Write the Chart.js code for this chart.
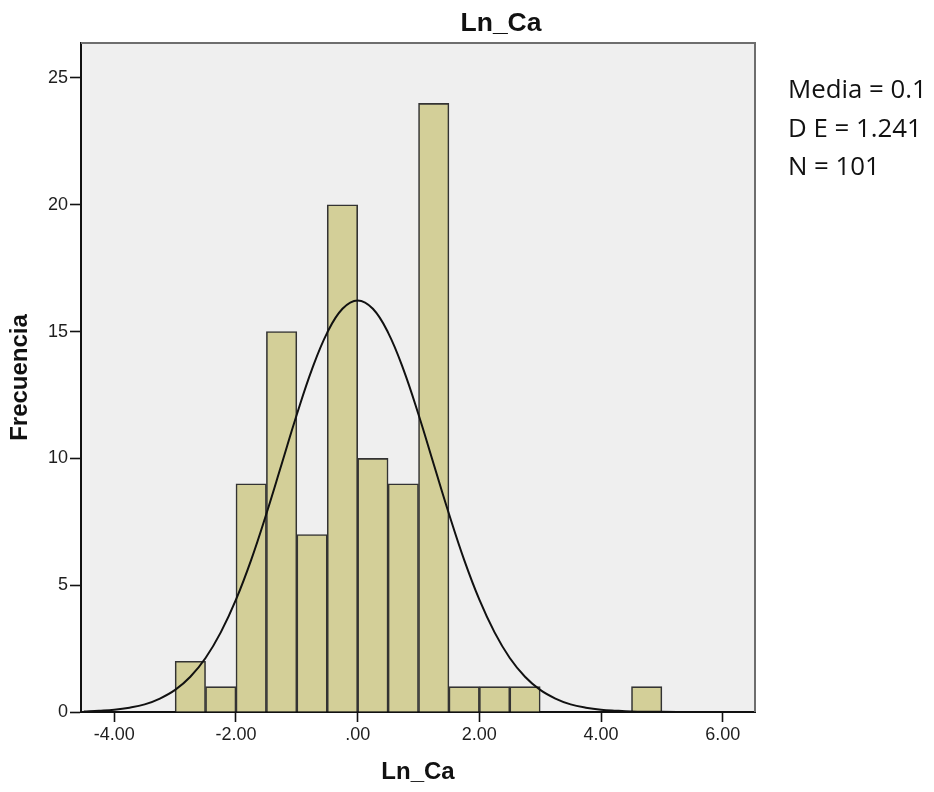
<!DOCTYPE html>
<html>
<head>
<meta charset="utf-8">
<title>Ln_Ca</title>
<script src="https://cdn.jsdelivr.net/npm/chart.js@4.4.1/dist/chart.umd.min.js"></script>
<style>
  body { margin: 0; background: #fff; }
  canvas { display: block; }
</style>
</head>
<body>
<canvas id="histChart" width="934" height="792"></canvas>
<script>
// Histogram bins (centres of 0.5 wide bins) and counts
const binCenters = [-2.75, -2.25, -1.75, -1.25, -0.75, -0.25, 0.25, 0.75, 1.25, 1.75, 2.25, 2.75, 4.75];
const binCounts = [2, 1, 9, 15, 7, 20, 10, 9, 24, 1, 1, 1, 1];

// Normal curve
const curveX = [
  -4.5, -4.25, -4, -3.75, -3.5, -3.25, -3, -2.75, -2.5, -2.25, -2, -1.75, -1.5,
  -1.25, -1, -0.75, -0.5, -0.25, 0, 0.25, 0.5, 0.75, 1, 1.25, 1.5, 1.75, 2,
  2.25, 2.5, 2.75, 3, 3.25, 3.5, 3.75, 4, 4.25, 4.5, 4.75, 5, 5.5, 6, 6.5,
];
const curveY = [
  0.02, 0.05, 0.09, 0.17, 0.3, 0.53, 0.87, 1.39, 2.13, 3.14, 4.43, 6.0, 7.82,
  9.77, 11.73, 13.52, 14.96, 15.9, 16.23, 15.9, 14.96, 13.52, 11.73, 9.77, 7.82, 6.0, 4.43,
  3.14, 2.13, 1.39, 0.87, 0.53, 0.3, 0.17, 0.09, 0.05, 0.02, 0.01, 0.01, 0, 0, 0,
];

// Axis ticks
const xTickValues = [-4, -2, 0, 2, 4, 6];
const xTickLabels = ["-4.00", "-2.00", ".00", "2.00", "4.00", "6.00"];
const yTickValues = [0, 5, 10, 15, 20, 25];

// Stats box text
const statsLines = ["Media = 0.1", "D E = 1.241", "N = 101"];

// Plot background, frame, title and stats text
const decor = {
  id: "decor",
  beforeDraw(chart) {
    const { ctx, chartArea: a } = chart;
    ctx.save();
    ctx.fillStyle = "#ffffff";
    ctx.fillRect(0, 0, chart.width, chart.height);
    ctx.fillStyle = "#efefef";
    ctx.fillRect(a.left, a.top, a.right - a.left, a.bottom - a.top);
    ctx.restore();
  },
  afterDraw(chart) {
    const { ctx, chartArea: a } = chart;
    ctx.save();
    ctx.strokeStyle = "#6e6e6e";
    ctx.lineWidth = 2;
    ctx.beginPath();
    ctx.moveTo(a.left, a.top);
    ctx.lineTo(a.right, a.top);
    ctx.lineTo(a.right, a.bottom);
    ctx.stroke();

    ctx.fillStyle = "#111";
    ctx.font = "bold 26.5px 'Liberation Sans', Arial, sans-serif";
    ctx.textAlign = "center";
    ctx.textBaseline = "middle";
    ctx.fillText("Ln_Ca", 501, 24);

    ctx.font = "25.8px 'Open Sans', sans-serif";
    ctx.textAlign = "left";
    ctx.textBaseline = "alphabetic";
    statsLines.forEach((line, i) => {
      ctx.fillText(line, 788, 98 + i * 38.7);
    });
    ctx.restore();
  },
};

const tickFont = { family: "'Liberation Sans', Arial, sans-serif", size: 18 };
const titleFont = { family: "'Liberation Sans', Arial, sans-serif", size: 24, weight: "bold" };

const histCtx = document.getElementById("histChart").getContext("2d");
const histChart = new Chart(histCtx, {
  data: {
    datasets: [
      {
        type: "line",
        data: curveX.map((x, i) => ({ x: x, y: curveY[i] })),
        borderColor: "#111111",
        borderWidth: 2,
        pointRadius: 0,
        tension: 0.4,
        fill: false,
        order: 0,
      },
      {
        type: "bar",
        data: binCenters.map((x, i) => ({ x: x, y: binCounts[i] })),
        backgroundColor: "#d3cf98",
        borderColor: "#333333",
        borderWidth: 1.6,
        barPercentage: 1,
        categoryPercentage: 1,
        order: 1,
      },
    ],
  },
  options: {
    responsive: false,
    animation: false,
    layout: { padding: { top: 43, right: 179, left: 0, bottom: 0 } },
    plugins: {
      legend: { display: false },
      tooltip: { enabled: false },
    },
    scales: {
      x: {
        type: "linear",
        min: -4.547,
        max: 6.53,
        offset: false,
        z: 1,
        afterFit: (scale) => {
          scale.height = 80;
        },
        afterBuildTicks: (scale) => {
          scale.ticks = xTickValues.map((v) => ({ value: v }));
        },
        ticks: {
          font: tickFont,
          color: "#1e1e1e",
          padding: 2,
          maxRotation: 0,
          callback: (value, index) => xTickLabels[index],
        },
        grid: {
          offset: false,
          drawOnChartArea: false,
          drawTicks: true,
          tickLength: 10,
          tickColor: "#111",
          tickWidth: 1.6,
        },
        border: { display: true, color: "#111", width: 2 },
        title: {
          display: true,
          text: "Ln_Ca",
          font: titleFont,
          color: "#111",
          padding: { top: 0, bottom: 5 },
        },
      },
      y: {
        type: "linear",
        min: 0,
        max: 26.38,
        z: 1,
        afterFit: (scale) => {
          scale.width = 81;
        },
        afterBuildTicks: (scale) => {
          scale.ticks = yTickValues.map((v) => ({ value: v }));
        },
        ticks: {
          font: tickFont,
          color: "#1e1e1e",
          padding: 2,
        },
        grid: {
          drawOnChartArea: false,
          drawTicks: true,
          tickLength: 11,
          tickColor: "#111",
          tickWidth: 1.6,
        },
        border: { display: true, color: "#111", width: 2 },
        title: {
          display: true,
          text: "Frecuencia",
          font: titleFont,
          color: "#111",
          padding: { top: 6, bottom: 0 },
        },
      },
    },
  },
  plugins: [decor],
});
</script>
</body>
</html>
